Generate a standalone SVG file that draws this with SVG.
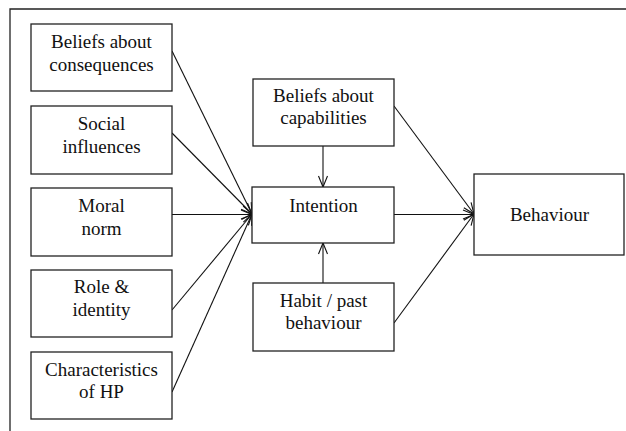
<svg xmlns="http://www.w3.org/2000/svg" width="626" height="431" viewBox="0 0 626 431">
<style>
.box{fill:#fff;stroke:#222;stroke-width:1.3}
.t{font-family:'Liberation Serif','Times New Roman',serif;font-size:19px;fill:#111;text-anchor:middle}
.c{stroke:#111;stroke-width:1.1;fill:none;marker-end:url(#arr)}
</style>
<defs>
<marker id="arr" markerUnits="userSpaceOnUse" markerWidth="14" markerHeight="12" viewBox="-12 -6 14 12" refX="0" refY="0" orient="auto">
<path d="M-11,-4.5 L0,0 L-11,4.5" fill="none" stroke="#111" stroke-width="1.1"/>
</marker>
</defs>
<rect width="626" height="431" fill="#fff"/>
<path d="M10,440 V9 H640" fill="none" stroke="#222" stroke-width="1.3"/>
<g id="connectors">
<line class="c" x1="172" y1="51" x2="252" y2="214"/>
<line class="c" x1="172" y1="133" x2="252" y2="214"/>
<line class="c" x1="172" y1="214.5" x2="252" y2="214.5"/>
<line class="c" x1="172" y1="310" x2="252" y2="214"/>
<line class="c" x1="172" y1="392" x2="252" y2="214"/>
<line class="c" x1="323" y1="146" x2="323" y2="187"/>
<line class="c" x1="323" y1="283" x2="323" y2="243"/>
<line class="c" x1="394" y1="214.5" x2="474" y2="214.5"/>
<line class="c" x1="394" y1="106" x2="474" y2="214"/>
<line class="c" x1="394" y1="323" x2="474" y2="214"/>
</g>
<g id="n1"><rect class="box" x="31" y="24" width="141" height="67"/><text class="t" x="101.5" y="48">Beliefs about</text><text class="t" x="101.5" y="71">consequences</text></g>
<g id="n2"><rect class="box" x="31" y="106" width="141" height="68"/><text class="t" x="101.5" y="130">Social</text><text class="t" x="101.5" y="153">influences</text></g>
<g id="n3"><rect class="box" x="31" y="188" width="141" height="68"/><text class="t" x="101.5" y="212">Moral</text><text class="t" x="101.5" y="235">norm</text></g>
<g id="n4"><rect class="box" x="31" y="270" width="141" height="67"/><text class="t" x="101.5" y="293">Role &amp;</text><text class="t" x="101.5" y="316">identity</text></g>
<g id="n5"><rect class="box" x="31" y="352" width="141" height="67"/><text class="t" x="101.5" y="376">Characteristics</text><text class="t" x="101.5" y="398">of HP</text></g>
<g id="n6"><rect class="box" x="253" y="79" width="141" height="67"/><text class="t" x="323.5" y="102">Beliefs about</text><text class="t" x="323.5" y="124">capabilities</text></g>
<g id="n7"><rect class="box" x="252" y="187" width="142" height="56"/><text class="t" x="323.5" y="212">Intention</text></g>
<g id="n8"><rect class="box" x="253" y="283" width="141" height="68"/><text class="t" x="323.5" y="307">Habit / past</text><text class="t" x="323.5" y="329">behaviour</text></g>
<g id="n9"><rect class="box" x="474" y="174" width="150" height="81"/><text class="t" x="549.5" y="221">Behaviour</text></g>
</svg>
